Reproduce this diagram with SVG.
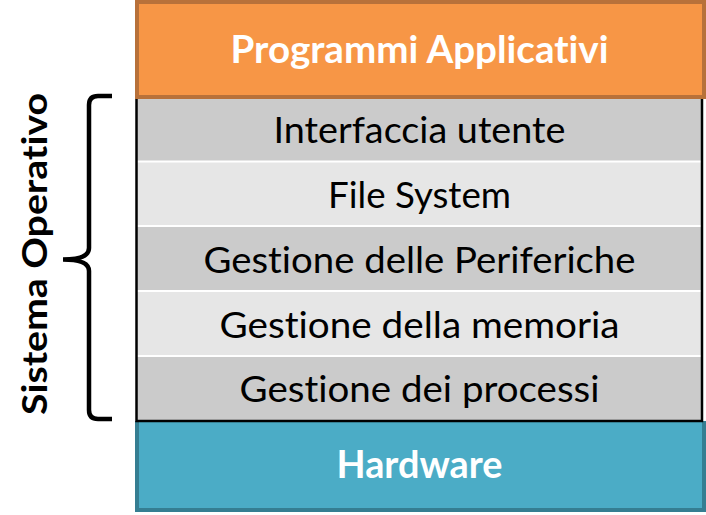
<svg xmlns="http://www.w3.org/2000/svg" width="706" height="515" viewBox="0 0 706 515">
  <style>
    text { font-variant-ligatures: none; font-feature-settings: "liga" 0, "dlig" 0; }
    .lbl { font-family: Lato, "Open Sans", "Liberation Sans", sans-serif; font-size: 37px; fill: #000; text-anchor: middle; }
    .bold { font-family: Lato, "Open Sans", "Liberation Sans", sans-serif; font-weight: bold; font-size: 38px; fill: #fff; text-anchor: middle; }
    .side { font-family: Lato, "Open Sans", "Liberation Sans", sans-serif; font-weight: bold; font-size: 35px; fill: #000; text-anchor: middle; }
    .rowA { fill: #CBCBCB; }
    .rowB { fill: #E6E6E6; }
    .sep { stroke: #FFFFFF; stroke-width: 2; }
  </style>
  <rect width="706" height="515" fill="#FFFFFF"/>

  <g id="hardware">
    <rect x="135" y="421" width="571" height="91" fill="#357E92"/>
    <rect x="139" y="421" width="563" height="87" fill="#4BACC6"/>
    <text class="bold" x="419.5" y="477.5" textLength="166" lengthAdjust="spacingAndGlyphs">Hardware</text>
  </g>

  <g id="sistema-operativo">
    <g id="interfaccia-utente">
      <rect class="rowA" x="137" y="97" width="565" height="64.5"/>
      <text class="lbl" x="419.5" y="143" textLength="292" lengthAdjust="spacingAndGlyphs">Interfaccia utente</text>
    </g>
    <g id="file-system">
      <rect class="rowB" x="137" y="161.5" width="565" height="64.5"/>
      <text class="lbl" x="419.5" y="208" textLength="183" lengthAdjust="spacingAndGlyphs">File System</text>
    </g>
    <g id="gestione-periferiche">
      <rect class="rowA" x="137" y="226" width="565" height="65"/>
      <text class="lbl" x="419.5" y="272.5" textLength="432" lengthAdjust="spacingAndGlyphs">Gestione delle Periferiche</text>
    </g>
    <g id="gestione-memoria">
      <rect class="rowB" x="137" y="291" width="565" height="65"/>
      <text class="lbl" x="419.5" y="337.5" textLength="400" lengthAdjust="spacingAndGlyphs">Gestione della memoria</text>
    </g>
    <g id="gestione-processi">
      <rect class="rowA" x="137" y="356" width="565" height="65"/>
      <text class="lbl" x="419.5" y="402" textLength="360" lengthAdjust="spacingAndGlyphs">Gestione dei processi</text>
    </g>
    <line class="sep" x1="137" y1="161.5" x2="702" y2="161.5"/>
    <line class="sep" x1="137" y1="226" x2="702" y2="226"/>
    <line class="sep" x1="137" y1="291" x2="702" y2="291"/>
    <line class="sep" x1="137" y1="356" x2="702" y2="356"/>
    <rect x="136.5" y="96" width="565.5" height="325" fill="none" stroke="#000" stroke-width="2.5"/>
  </g>

  <g id="programmi-applicativi">
    <rect x="137" y="2" width="567" height="95" fill="#F79646" stroke="#B8713A" stroke-width="4"/>
    <text class="bold" x="419.5" y="63" textLength="378" lengthAdjust="spacingAndGlyphs">Programmi Applicativi</text>
  </g>

  <g id="connectors">
    <path d="M112,96 H98 Q89,96 89,105 V248 Q89,259.5 63,259.5 Q89,259.5 89,271 V410 Q89,419 98,419 H112" fill="none" stroke="#000" stroke-width="4.5"/>
  </g>

  <g id="label-sistema">
    <text class="side" transform="translate(47,254) rotate(-90)" x="0" y="0" textLength="322" lengthAdjust="spacingAndGlyphs">Sistema Operativo</text>
  </g>
</svg>
